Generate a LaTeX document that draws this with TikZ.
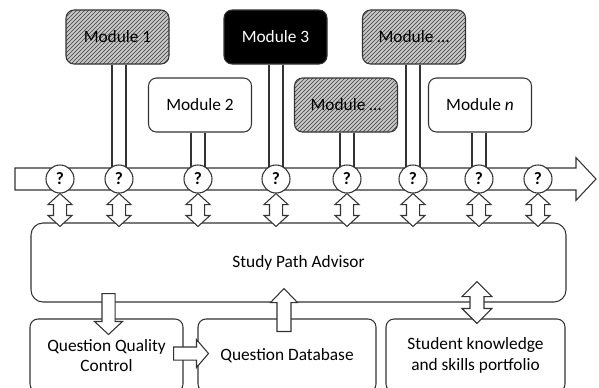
\documentclass[tikz,border=0pt]{standalone}
\usepackage{fontspec}
\setmainfont{Carlito}
\usetikzlibrary{patterns,calc,backgrounds}

\tikzset{
  ba shaft/.store in=\bashaft, ba head/.store in=\bahead, ba tip/.store in=\batip,
  ba shaft=4.9pt, ba head=10.5pt, ba tip=9.75pt,
  blockarrow/.style={draw=black!80, line width=0.8pt, fill=white, line join=miter, to path={
    ($(\tikztotarget)!\batip!(\tikztostart)$) coordinate (bh)
    ($(\tikztostart)!\bashaft!90:(\tikztotarget)$) -- ($(bh)!\bashaft!90:(\tikztotarget)$)
    -- ($(bh)!\bahead!90:(\tikztotarget)$) -- (\tikztotarget)
    -- ($(bh)!\bahead!-90:(\tikztotarget)$) -- ($(bh)!\bashaft!-90:(\tikztotarget)$)
    -- ($(\tikztostart)!\bashaft!-90:(\tikztotarget)$) -- cycle}},
  dblockarrow/.style={draw=black!80, line width=0.8pt, fill=white, line join=miter, to path={
    ($(\tikztostart)!\batip!(\tikztotarget)$) coordinate (ha)
    ($(\tikztotarget)!\batip!(\tikztostart)$) coordinate (hb)
    (\tikztostart) -- ($(ha)!\bahead!90:(\tikztotarget)$) -- ($(ha)!\bashaft!90:(\tikztotarget)$)
    -- ($(hb)!\bashaft!90:(\tikztotarget)$) -- ($(hb)!\bahead!90:(\tikztotarget)$)
    -- (\tikztotarget) -- ($(hb)!\bahead!-90:(\tikztotarget)$) -- ($(hb)!\bashaft!-90:(\tikztotarget)$)
    -- ($(ha)!\bashaft!-90:(\tikztotarget)$) -- ($(ha)!\bahead!-90:(\tikztotarget)$) -- cycle}},
  box/.style={draw=black!80, line width=0.8pt, fill=white, rounded corners=6pt, align=center,
    font=\fontsize{13}{15.5}\selectfont},
  module/.style={box, minimum width=77.25pt, minimum height=40.5pt},
  hatched/.style={preaction={fill=black!22}, pattern=north east lines, pattern color=black!75},
  ask/.style={circle, draw=black!80, line width=0.8pt, fill=white, minimum size=21pt, inner sep=0pt,
    font=\fontsize{13}{15}\selectfont\bfseries},
  pipe/.style={draw=black!80, line width=0.8pt, double=white, double distance=9.7pt}
}

\begin{document}
\begin{tikzpicture}[x=0.75pt, y=-0.75pt]
    \useasboundingbox (0,0) rectangle (599,387);
    \clip (0,0) rectangle (599,387);

    % time line with the checkpoints
    \coordinate (busL) at (15,179);
    \coordinate (busR) at (596,179);
    \draw[blockarrow, ba shaft=8.25pt, ba head=16pt, ba tip=15pt] (busL) to (busR);
    \foreach \x [count=\i] in {60, 119, 198, 276, 347, 413, 479, 538}{
        \node[ask] (q\i) at (\x, 179) {?};
    }

    % modules
    \node[module, hatched] (m1) at (117.5, 37) {Module 1};
    \node[module] (m2) at (200, 105) {Module 2};
    \node[module, fill=black, text=white] (m3) at (275.5, 37) {Module 3};
    \node[module, hatched] (m4) at (346, 105) {Module \dots};
    \node[module, hatched] (m5) at (414, 37) {Module \dots};
    \node[module] (mn) at (480, 105) {Module \textit{n}};

    \begin{scope}[on background layer]
        \draw[pipe] (m1.south -| q2) -- (q2.center);
        \draw[pipe] (m2.south -| q3) -- (q3.center);
        \draw[pipe] (m3.south -| q4) -- (q4.center);
        \draw[pipe] (m4.south -| q5) -- (q5.center);
        \draw[pipe] (m5.south -| q6) -- (q6.center);
        \draw[pipe] (mn.south -| q7) -- (q7.center);
    \end{scope}

    % advisor and the parts below it
    \node[box, rounded corners=9pt, minimum width=401.25pt, minimum height=59.25pt] (spa) at (298.5, 262.5) {Study Path Advisor};
    \node[box, minimum width=114.75pt, minimum height=54.75pt] (qqc) at (106.5, 355.5) {Question Quality\\Control};
    \node[box, minimum width=133.5pt, minimum height=54.75pt] (qdb) at (287, 355.5) {Question Database};
    \node[box, minimum width=134.25pt, minimum height=54.75pt] (skp) at (475.5, 355.5) {Student knowledge\\and skills portfolio};

    \foreach \i in {1, ..., 8}{
        \draw[dblockarrow, ba shaft=4.9pt, ba head=9pt, ba tip=8.25pt] (q\i.south) to ([yshift=-3pt]spa.north -| q\i);
    }

    \draw[blockarrow] ([xshift=1.5pt, yshift=6.75pt]spa.south -| qqc.north) to ([xshift=1.5pt, yshift=-12pt]qqc.north);
    \draw[blockarrow, ba tip=9pt] ([xshift=-7.5pt, yshift=1.5pt]qqc.east) to ([xshift=8.25pt, yshift=1.5pt]qdb.west);
    \draw[blockarrow, ba shaft=5.25pt, ba head=10.1pt, ba tip=10.5pt] ([xshift=-2.25pt, yshift=-9.75pt]qdb.north) to ([xshift=-2.25pt, yshift=10.5pt]spa.south -| qdb.north);
    \draw[dblockarrow, ba shaft=5.25pt, ba head=11.25pt, ba tip=11.25pt] ([xshift=1.1pt, yshift=15.75pt]spa.south -| skp.north) to ([xshift=1.1pt, yshift=-3.75pt]skp.north);
\end{tikzpicture}
\end{document}
